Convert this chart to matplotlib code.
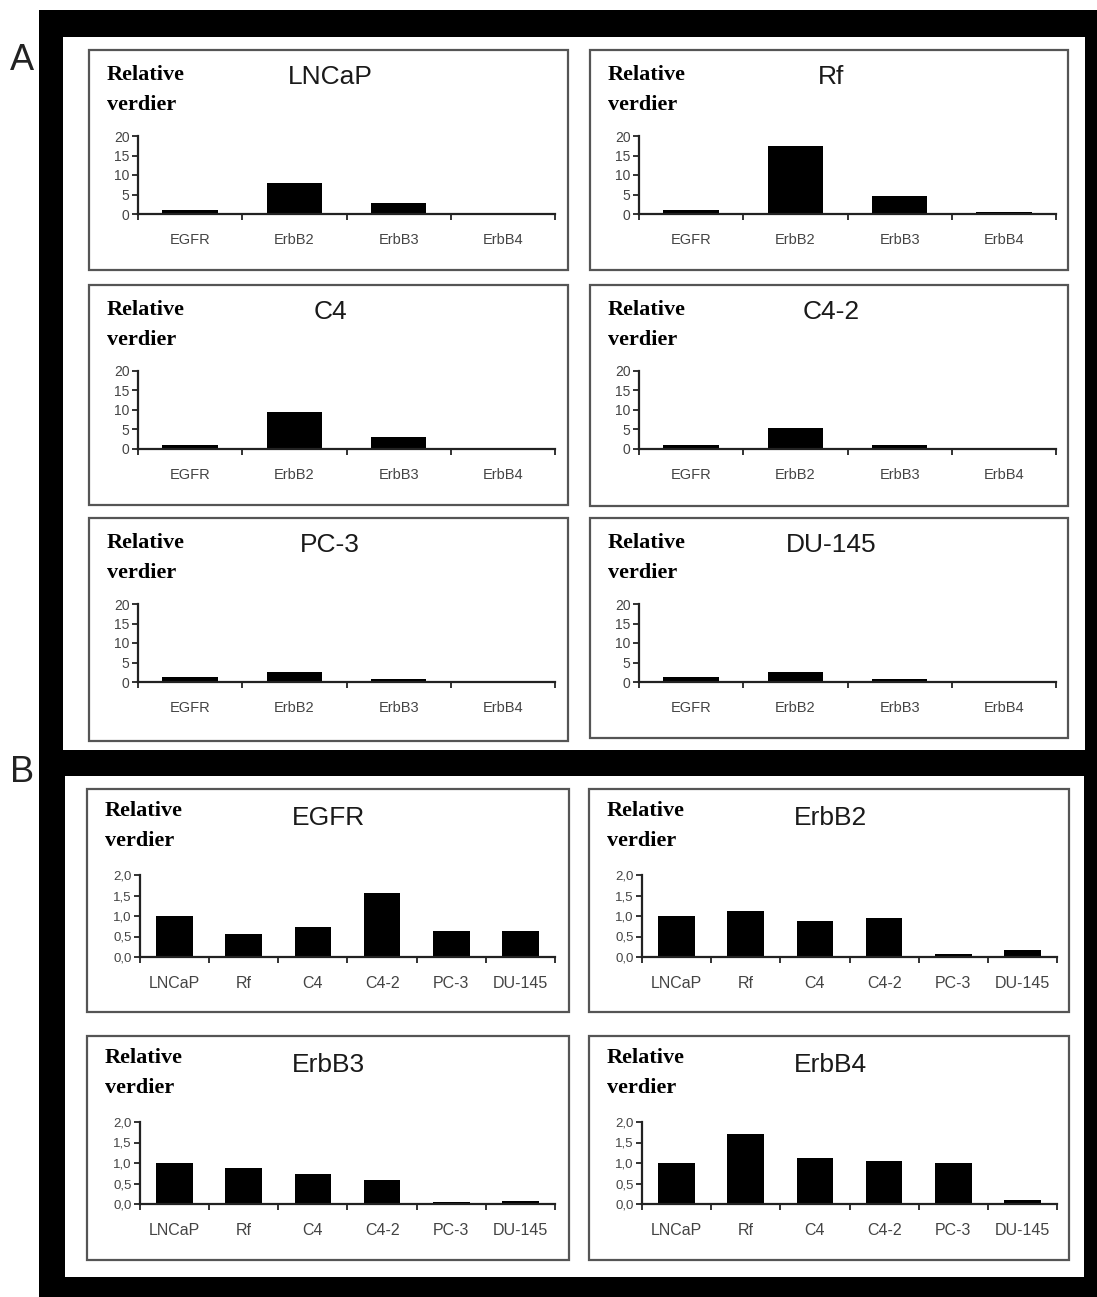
import matplotlib
matplotlib.use('Agg')
from matplotlib import pyplot as plt
from matplotlib.patches import Rectangle
import numpy as np

W, H = 1097, 1297

genes = ['EGFR', 'ErbB2', 'ErbB3', 'ErbB4']
cell_lines = ['LNCaP', 'Rf', 'C4', 'C4-2', 'PC-3', 'DU-145']

# A: receptors within each cell line (relative values)
a_lncap = [1.0, 7.9, 2.9, 0.1]
a_rf = [1.0, 17.5, 4.7, 0.5]
a_c4 = [1.0, 9.6, 3.1, 0.1]
a_c4_2 = [1.1, 5.3, 1.1, 0.1]
a_pc3 = [1.2, 2.6, 0.8, 0.05]
a_du145 = [1.3, 2.6, 0.8, 0.05]

# B: each receptor across the cell lines
b_egfr = [1.0, 0.55, 0.72, 1.55, 0.64, 0.63]
b_erbb2 = [1.0, 1.12, 0.88, 0.95, 0.08, 0.18]
b_erbb3 = [1.0, 0.87, 0.74, 0.58, 0.04, 0.08]
b_erbb4 = [1.0, 1.70, 1.11, 1.04, 1.0, 0.09]

a_yticks = [0, 5, 10, 15, 20]
a_yticklabels = ['0', '5', '10', '15', '20']
b_yticks = [0, 0.5, 1.0, 1.5, 2.0]
b_yticklabels = ['0,0', '0,5', '1,0', '1,5', '2,0']

fig = plt.figure(figsize=(W / 100, H / 100), dpi=100)


def frac(x0, y0, x1, y1):
    return [x0 / W, 1 - y1 / H, (x1 - x0) / W, (y1 - y0) / H]


def rect(x0, y0, x1, y1, **kw):
    l, b, w, h = frac(x0, y0, x1, y1)
    fig.patches.append(Rectangle((l, b), w, h, transform=fig.transFigure, **kw))


def ftext(x, y, s, **kw):
    fig.text(x / W, 1 - y / H, s, **kw)


# black frame with two white panels
rect(39, 10, W, H, facecolor='black', edgecolor='none', zorder=0)
rect(63, 37, 1085, 750, facecolor='white', edgecolor='none', zorder=1)
rect(65, 776, 1084, 1277, facecolor='white', edgecolor='none', zorder=1)

ftext(22, 60, 'A', fontsize=26, family='Liberation Sans', color='#222', ha='center', va='center')
ftext(22, 773, 'B', fontsize=26, family='Liberation Sans', color='#222', ha='center', va='center')


def chart(box, title, labels, values, yticks, yticklabels, ymax, off, lab_size, ytick_size):
    x0, y0, x1, y1 = box
    rect(x0, y0, x1, y1, facecolor='white', edgecolor='#555', linewidth=1.6, zorder=2)
    ftext(x0 + 18, y0 + off['rel'], 'Relative', fontsize=16, family='Liberation Serif',
          weight='bold', ha='left', va='center', zorder=5)
    ftext(x0 + 18, y0 + off['rel'] + 30, 'verdier', fontsize=16, family='Liberation Serif',
          weight='bold', ha='left', va='center', zorder=5)
    ftext(x0 + 241, y0 + off['title'], title, fontsize=19, family='Liberation Sans',
          color='#1a1a1a', ha='center', va='center', zorder=5)

    ax = fig.add_axes(frac(x0 + off['left'], y0 + off['top'], x0 + off['right'], y0 + off['bottom']))
    ax.set_zorder(4)
    ax.patch.set_alpha(0)
    n = len(labels)
    x = np.arange(n)
    ax.bar(x, values, width=0.53, color='black')
    ax.set_xlim(-0.5, n - 0.5)
    ax.set_ylim(0, ymax)
    ax.set_yticks(yticks)
    ax.set_yticklabels(yticklabels, fontsize=ytick_size, family='Liberation Sans', color='#444')
    ax.set_xticks(x)
    ax.set_xticklabels(labels, fontsize=lab_size, family='Liberation Sans', color='#444')
    ax.set_xticks(np.arange(n + 1) - 0.5, minor=True)
    ax.tick_params(axis='x', which='major', length=0, pad=14)
    ax.tick_params(axis='x', which='minor', length=4, width=1.4, color='#333', direction='out')
    ax.tick_params(axis='y', length=4, width=1.4, color='#333', direction='out', pad=2)
    for side in ('top', 'right'):
        ax.spines[side].set_visible(False)
    for side in ('left', 'bottom'):
        ax.spines[side].set_linewidth(1.6)
        ax.spines[side].set_color('#222')
    return ax


off_a = {'rel': 25, 'title': 27, 'left': 49, 'right': 466, 'top': 86, 'bottom': 164}
off_b = {'rel': 22, 'title': 29, 'left': 53, 'right': 468, 'top': 86, 'bottom': 168}

panel_a = [
    ((89, 50, 568, 270), 'LNCaP', a_lncap),
    ((590, 50, 1068, 270), 'Rf', a_rf),
    ((89, 285, 568, 505), 'C4', a_c4),
    ((590, 285, 1068, 506), 'C4-2', a_c4_2),
    ((89, 518, 568, 741), 'PC-3', a_pc3),
    ((590, 518, 1068, 738), 'DU-145', a_du145),
]
for box, title, vals in panel_a:
    chart(box, title, genes, vals, a_yticks, a_yticklabels, 20, off_a, 10.5, 10)

panel_b = [
    ((87, 789, 569, 1012), 'EGFR', b_egfr),
    ((589, 789, 1069, 1012), 'ErbB2', b_erbb2),
    ((87, 1036, 569, 1260), 'ErbB3', b_erbb3),
    ((589, 1036, 1069, 1260), 'ErbB4', b_erbb4),
]
for box, title, vals in panel_b:
    chart(box, title, cell_lines, vals, b_yticks, b_yticklabels, 2.0, off_b, 11.5, 9.5)

fig.savefig('out.png', dpi=100)
